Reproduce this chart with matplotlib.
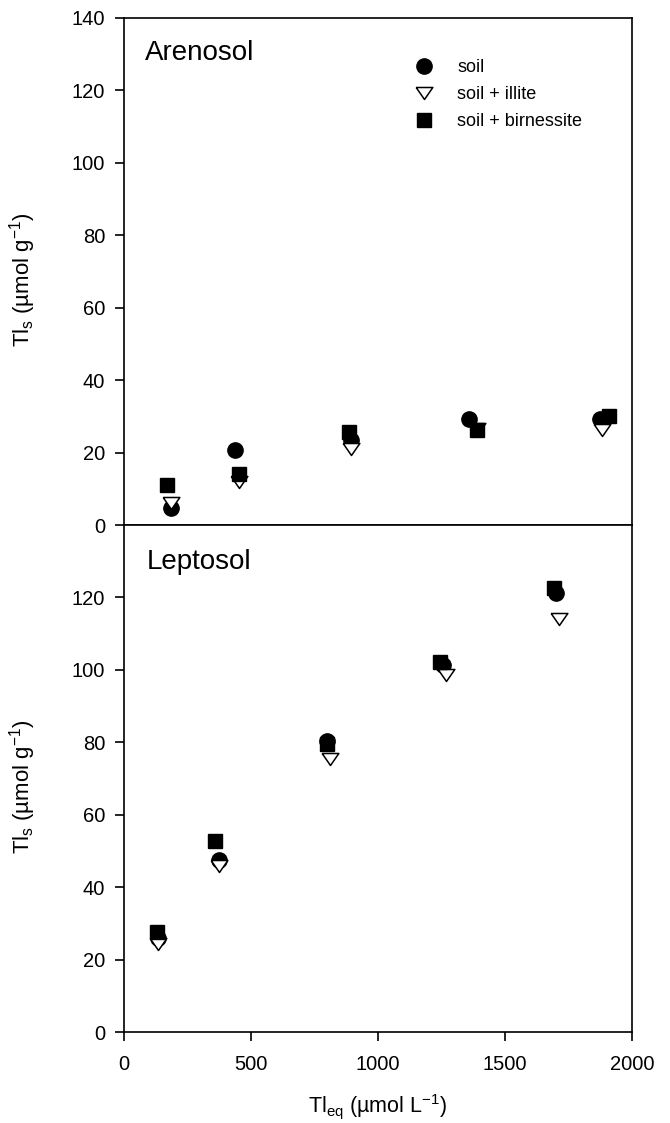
import matplotlib

matplotlib.use("Agg")
import matplotlib.pyplot as plt

plt.rcParams["font.family"] = ["Liberation Sans", "DejaVu Sans"]
plt.rcParams["mathtext.fontset"] = "custom"
plt.rcParams["mathtext.rm"] = "Liberation Sans"
plt.rcParams["mathtext.it"] = "Liberation Sans:italic"

# Arenosol (top panel)
aren_soil_x = [187, 436, 894, 1359, 1874]
aren_soil_y = [4.6, 20.6, 23.5, 29.2, 29.2]
aren_illite_x = [185, 455, 896, 1390, 1882]
aren_illite_y = [6.0, 12.0, 21.0, 26.5, 26.1]
aren_birn_x = [170, 452, 885, 1392, 1912]
aren_birn_y = [11.0, 14.0, 25.8, 26.1, 30.1]

# Leptosol (bottom panel)
lept_soil_x = [136, 373, 801, 1258, 1703]
lept_soil_y = [26.0, 47.4, 80.3, 101.4, 121.2]
lept_illite_x = [136, 376, 812, 1269, 1714]
lept_illite_y = [24.4, 45.8, 75.3, 98.6, 114.0]
lept_birn_x = [130, 358, 801, 1245, 1695]
lept_birn_y = [27.6, 52.7, 79.6, 102.3, 122.6]

series_labels = ["soil", "soil + illite", "soil + birnessite"]
x_ticks = [0, 500, 1000, 1500, 2000]
top_y_ticks = [0, 20, 40, 60, 80, 100, 120, 140]
bottom_y_ticks = [0, 20, 40, 60, 80, 100, 120]

# wide, flat down-pointing triangle like the original
tri = [(-1.0, 0.72), (1.0, 0.72), (0.0, -0.72), (-1.0, 0.72)]

ylabel = r"Tl$_\mathrm{s}$ (µmol g$^{\mathrm{-1}}$)"
xlabel = r"Tl$_\mathrm{eq}$ (µmol L$^{\mathrm{-1}}$)"


def draw_panel(ax, sx, sy, ix, iy, bx, by):
    ax.plot(sx, sy, linestyle="none", marker="o", markersize=11,
            color="black", zorder=3, label=series_labels[0])
    ax.plot(ix, iy, linestyle="none", marker=tri, markersize=12,
            markerfacecolor="white", markeredgecolor="black",
            markeredgewidth=1.1, zorder=4, label=series_labels[1])
    ax.plot(bx, by, linestyle="none", marker="s", markersize=10,
            color="black", zorder=5, label=series_labels[2])

    ax.set_xlim(0, 2000)
    ax.set_ylim(0, 140)
    for spine in ax.spines.values():
        spine.set_linewidth(1.2)
    ax.tick_params(direction="out", length=6.5, width=1.2,
                   labelsize=14.5, pad=7)
    ax.set_ylabel(ylabel, fontsize=16)
    ax.yaxis.set_label_coords(-0.169, 0.483)


fig = plt.figure(figsize=(6.7, 11.23), dpi=100)
ax_top = fig.add_axes([0.185, 0.5325, 0.758, 0.4515])
ax_bot = fig.add_axes([0.185, 0.081, 0.758, 0.4515])

draw_panel(ax_top, aren_soil_x, aren_soil_y, aren_illite_x, aren_illite_y,
           aren_birn_x, aren_birn_y)
draw_panel(ax_bot, lept_soil_x, lept_soil_y, lept_illite_x, lept_illite_y,
           lept_birn_x, lept_birn_y)

ax_top.set_yticks(top_y_ticks)
ax_top.set_xticks([])
ax_bot.set_yticks(bottom_y_ticks)
ax_bot.set_xticks(x_ticks)
ax_bot.tick_params(axis="x", pad=10)

ax_bot.set_xlabel(xlabel, fontsize=15.5)
ax_bot.xaxis.set_label_coords(0.5, -0.118)

ax_top.text(0.041, 0.918, "Arenosol", transform=ax_top.transAxes,
            fontsize=20, va="baseline", ha="left")
ax_bot.text(0.045, 0.914, "Leptosol", transform=ax_bot.transAxes,
            fontsize=20, va="baseline", ha="left")

ax_top.legend(loc="upper left", bbox_to_anchor=(0.573, 0.919),
              frameon=False, fontsize=13, borderpad=0, borderaxespad=0,
              handlelength=1.0, handletextpad=1.35, labelspacing=0.55)

fig.savefig("out.png", dpi=100)
